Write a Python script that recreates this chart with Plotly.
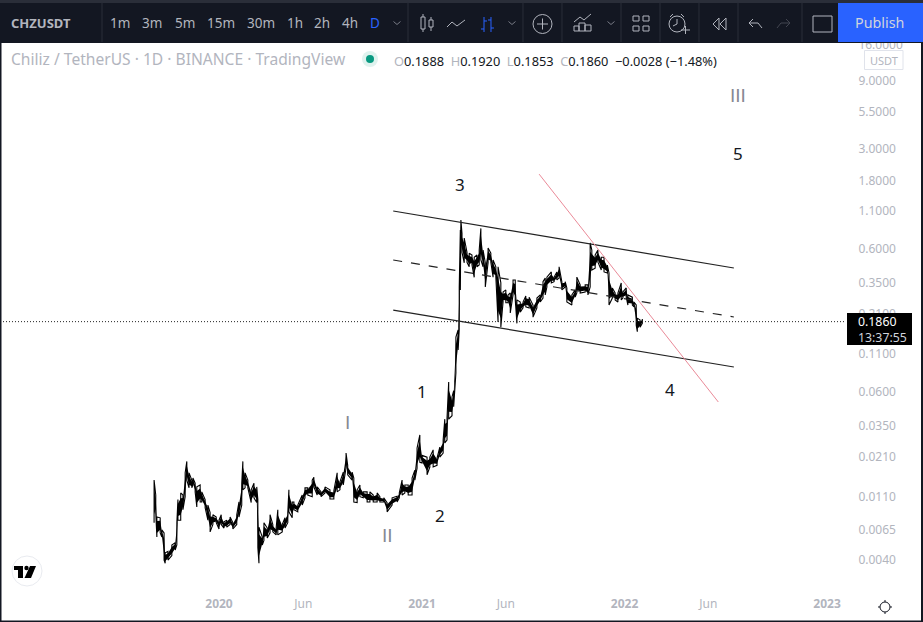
import math
import pandas as pd
import plotly.graph_objects as go

# ---------- data ----------
base_date = pd.Timestamp("2020-01-01")
bar_day = [-117,-114,-112,-106,-103,-99,-97,-92,-85,-79,-76,-74,-69,-65,-61,-58,-54,-49,-47,-43,-40,-34,-31,-25,-20,-16,-11,-5,
 0,4,9,14,20,25,32,36,41,43,47,52,58,63,68,70,72,78,81,87,92,97,103,106,114,119,124,126,132,135,142,150,155,160,168,171,177,184,191,
 200,207,213,218,224,229,232,240,243,249,254,260,267,272,278,285,290,297,303,312,321,325,330,335,341,348,353,357,362,366,375,380,386,393,398,404,
 407,411,414,420,423,427,431,433,435,436,438,442,447,451,456,460,465,469,472,476,480,485,490,494,499,503,508,512,517,521,525,530,534,537,543,548,553,559,566,573,579,584,588,591,
 599,604,609,613,618,624,627,636,642,645,651,660,665,669,672,678,683,689,694,700,703,709,714,719,725,728,734,737,745,748,752,754,759,763]
bar_low = [.0073,.0086,.0058,.0062,.0058,.0040,.0038,.0040,.0043,.0047,.0051,.0076,.0076,.0090,.0111,.0145,.0128,.0128,.0134,.0120,.0094,.0102,.0102,.0093,.0076,.0063,.0071,.0073,
 .0066,.0071,.0067,.0068,.0071,.0066,.0071,.0080,.0097,.0124,.0128,.0128,.0101,.0109,.0101,.0049,.0038,.0051,.0055,.0057,.0062,.0063,.0060,.0060,.0063,.0067,.0073,.0087,.0079,.0090,.0087,.0097,.0109,.0114,.0111,.0130,.0114,.0111,.0118,
 .0107,.0107,.0120,.0124,.0134,.0176,.0158,.0145,.0102,.0101,.0111,.0109,.0102,.0102,.0102,.0102,.0102,.0102,.0087,.0097,.0102,.0109,.0114,.0118,.0114,.0114,.0145,.0176,.0193,.0191,.0158,.0179,.0179,.0184,.0210,.0224,
 .0264,.0276,.0387,.0409,.0473,.0813,.118,.163,.310,.589,.567,.480,.484,.450,.463,.380,.450,.463,.502,.450,.325,.480,.484,.380,.380,.185,.170,.255,.252,.252,.214,.286,.264,.181,.217,.232,.236,.232,.200,.232,.255,.272,.286,.325,
 .347,.354,.364,.375,.310,.325,.255,.243,.276,.295,.295,.300,.286,.325,.427,.440,.484,.427,.414,.407,.243,.272,.264,.255,.264,.272,.276,.243,.243,.236,.176,.158,.170,.181]
bar_high = [.0145,.0114,.0080,.0079,.0065,.0062,.0045,.0046,.0051,.0053,.0073,.0106,.0118,.0114,.0163,.0196,.0163,.0145,.0150,.0138,.0130,.0134,.0120,.0106,.0097,.0086,.0083,.0080,
 .0076,.0083,.0074,.0076,.0080,.0073,.0083,.0102,.0138,.0196,.0163,.0145,.0124,.0138,.0130,.0106,.0068,.0058,.0073,.0067,.0083,.0071,.0067,.0090,.0071,.0079,.0086,.0124,.0102,.0102,.0097,.0114,.0128,.0128,.0145,.0152,.0130,.0120,.0130,
 .0124,.0122,.0163,.0141,.0165,.0224,.0184,.0165,.0150,.0124,.0134,.0120,.0120,.0120,.0114,.0118,.0111,.0109,.0101,.0109,.0112,.0118,.0145,.0134,.0134,.0150,.0170,.0243,.0300,.0216,.0210,.0210,.0236,.0207,.0247,.0276,
 .0387,.0394,.0703,.0553,.0612,.145,.163,.322,.813,.955,.768,.715,.567,.560,.544,.525,.544,.589,.835,.589,.480,.610,.560,.502,.450,.450,.347,.300,.310,.286,.295,.364,.364,.264,.255,.255,.281,.276,.243,.272,.286,.354,.375,.381,
 .414,.381,.414,.450,.354,.354,.320,.286,.310,.381,.336,.336,.336,.660,.589,.544,.589,.525,.525,.463,.407,.320,.295,.295,.347,.300,.320,.286,.276,.255,.243,.197,.191,.194]

upper_day, upper_price = [314, 928], [1.105, 0.441]
lower_day, lower_price = [314, 928], [0.224, 0.0896]
middle_day, middle_price = [314, 928], [0.502, 0.2004]
red_day, red_price = [577, 900], [2.00, 0.0510]
last_price = 0.1860

wave_labels = ["3", "5", "1", "2", "4"]
wave_day = [434, 936, 366, 398, 813]
wave_price = [1.68, 2.77, 0.0600, 0.00815, 0.0628]
roman_labels = ["III", "I", "II"]
roman_day = [936, 231, 303]
roman_price = [7.15, 0.0364, 0.00599]

price_ticks = [16, 9, 5.5, 3, 1.8, 1.1, 0.6, 0.35, 0.21, 0.11, 0.06, 0.035, 0.021, 0.011, 0.0065, 0.004]
price_tick_text = [f"{p:.4f}" for p in price_ticks]
time_ticks = ["2020-01-01", "2020-06-01", "2021-01-01", "2021-06-01", "2022-01-01", "2022-06-01", "2023-01-01"]
time_tick_text = ["<b>2020</b>", "Jun", "<b>2021</b>", "Jun", "<b>2022</b>", "Jun", "<b>2023</b>"]

intervals = ["1m", "3m", "5m", "15m", "30m", "1h", "2h", "4h", "D"]
interval_px = [120, 152, 185, 221, 261, 295, 322, 350, 375]

# ---------- layout constants ----------
W, H = 923, 622
FONT = "Noto Sans"
DARK, GREY, BLUE = "#131722", "#b2b5be", "#2962ff"
DAY0_PX, PX_PER_DAY = 219.0, 0.5548
PLOT_R, PLOT_B = 845, 595
Y16_PX, PX_PER_DECADE = 45.0, 143.0


def to_date(days):
    return [base_date + pd.Timedelta(days=d) for d in days]


def px_to_date(px):
    return base_date + pd.Timedelta(days=(px - DAY0_PX) / PX_PER_DAY)


def px_to_log(py):
    return 1.2041 - (py - Y16_PX) / PX_PER_DECADE


fx = lambda x: x / W
fy = lambda y: 1 - y / H

shapes, annots = [], []


def rect(x0, y0, x1, y1, fill=None, line=None, w=1, layer="above"):
    shapes.append(dict(type="rect", xref="paper", yref="paper", x0=fx(x0), x1=fx(x1), y0=fy(y0), y1=fy(y1),
                       fillcolor=fill or "rgba(0,0,0,0)", line=dict(color=line or "rgba(0,0,0,0)", width=w if line else 0), layer=layer))


def circle(cx, cy, r, fill=None, line=None, w=1):
    shapes.append(dict(type="circle", xref="paper", yref="paper", x0=fx(cx - r), x1=fx(cx + r), y0=fy(cy - r), y1=fy(cy + r),
                       fillcolor=fill or "rgba(0,0,0,0)", line=dict(color=line or "rgba(0,0,0,0)", width=w if line else 0), layer="above"))


def poly(points, color=GREY, w=1, fill=None, close=False):
    d = "M" + " L".join(f"{fx(x):.5f},{fy(y):.5f}" for x, y in points) + (" Z" if close else "")
    shapes.append(dict(type="path", xref="paper", yref="paper", path=d, fillcolor=fill or "rgba(0,0,0,0)",
                       line=dict(color=color, width=w if w else 0), layer="above"))


def label(x, y, text, size=14, color=GREY, anchor="center", font=FONT, bg=None):
    a = dict(xref="paper", yref="paper", x=fx(x), y=fy(y), text=text, showarrow=False, xanchor=anchor, yanchor="middle",
             font=dict(family=font, size=size, color=color), borderpad=0, borderwidth=0, align="left")
    if bg:
        a["bgcolor"] = bg
    annots.append(a)


# ---------- price scale badges and chart-area furniture ----------
label(11, 59, "Chiliz / TetherUS · 1D · BINANCE · TradingView", size=15.6, color=GREY, anchor="left")
circle(370, 59, 8, fill="#dff2ee")
circle(370, 59, 4, fill="#089981")
g = lambda s: f'<span style="color:#b2b5be">{s}</span>'
label(394, 61, f'{g("O")}0.1888  {g("H")}0.1920  {g("L")}0.1853  {g("C")}0.1860  −0.0028 (−1.48%)', size=12.8, color=DARK, anchor="left")
rect(864.5, 50.5, 903, 69.5, fill="white", line="#e0e3eb")
label(884, 60, "USDT", size=11, color=GREY)
rect(847, 313, 912, 345, fill="black")
label(858, 329, '0.1860<br><span style="color:#d1d4dc">13:37:55</span>', size=12.3, color="white", anchor="left")

# TradingView badge
circle(27, 571, 15, fill="white", line="#e9ebf0")
poly([(14, 566), (23, 566), (23, 578), (18, 578), (18, 570), (14, 570)], color="black", w=0, fill="black", close=True)
circle(26.5, 568, 2.2, fill="black")
poly([(30, 566), (36, 566), (31, 578), (24.5, 578)], color="black", w=0, fill="black", close=True)

# theme toggle (sun)
circle(885, 607, 5, line=DARK, w=1)
for p, q in [((885, 600), (885, 602)), ((885, 612), (885, 614)), ((878, 607), (880, 607)), ((890, 607), (892, 607))]:
    poly([p, q], color=DARK, w=1)

# ---------- dark window chrome and toolbar ----------
rect(0, 0, W, 43, fill=DARK)
rect(0, 0, W, 3, fill="#2a2e39")
rect(0, 43, 1.5, H, fill=DARK)
rect(921, 43, W, H, fill=DARK)
rect(0, 620.5, W, H, fill=DARK)
rect(838, 3, W, 42, fill=BLUE)
for xs in [102, 408, 523, 562, 621, 660, 699, 738, 802]:
    poly([(xs, 3), (xs, 42)], color="#2a2e39", w=1)
label(11, 23, "<b>CHZUSDT</b>", size=13, color=GREY, anchor="left")
for name, px in zip(intervals, interval_px):
    label(px, 23, name, size=13.5, color=BLUE if name == "D" else GREY)
label(879, 23, "Publish", size=14.3, color="#d1d4dc")

for cx in [397, 512, 611]:
    poly([(cx - 3.5, 21.5), (cx, 24.5), (cx + 3.5, 21.5)], color="#787b86")
# candle icon
rect(421, 17, 425, 29, line=GREY)
poly([(423, 14), (423, 17)]); poly([(423, 29), (423, 32)])
rect(429, 20, 433, 27, line=GREY)
poly([(431, 17), (431, 20)]); poly([(431, 27), (431, 31)])
# line icon
poly([(447, 27), (452, 22), (457, 26), (465, 20)])
# bar icon
for bx, a, b in [(484, 29, 21), (491, 20, 28)]:
    poly([(bx, 17), (bx, 32)], color=BLUE)
    poly([(bx - 3, a), (bx, a)], color=BLUE)
    poly([(bx, b), (bx + 3, b)], color=BLUE)
# plus circle
circle(542.5, 24, 9.5, line=GREY)
poly([(537, 24), (548, 24)]); poly([(542.5, 18.5), (542.5, 29.5)])
# indicators icon
poly([(574, 22), (580, 17), (584, 20), (591, 14)])
rect(574, 26, 579, 31, line=GREY); rect(579, 23, 585, 31, line=GREY); rect(585, 25, 591, 31, line=GREY)
# layouts icon
for a, b in [(633, 16), (643, 16), (633, 26), (643, 26)]:
    rect(a, b, a + 6, b + 5, line=GREY)
# alert icon
circle(677, 24, 8, line=GREY)
poly([(677, 19), (677, 24), (673, 26)]); poly([(670, 17), (673, 14)]); poly([(684, 17), (681, 14)])
poly([(681, 30), (690, 30)]); poly([(685.5, 26), (685.5, 34)])
# replay icon
poly([(719, 18), (713, 24), (719, 30), (719, 18)]); poly([(726, 18), (720, 24), (726, 30), (726, 18)])
# undo / redo
poly([(753, 19), (749, 23), (753, 27)]); poly([(749, 23), (758, 23), (762, 28)])
poly([(786, 19), (790, 23), (786, 27)], color="#434651"); poly([(790, 23), (781, 23), (777, 28)], color="#434651")
# fullscreen square
rect(813, 16, 832, 32, line=GREY)

# ---------- figure ----------
fig = go.Figure()

bar_date = to_date(bar_day)
core_high = [lo ** 0.2 * hi ** 0.8 for lo, hi in zip(bar_low, bar_high)]
core_low = [lo ** 0.8 * hi ** 0.2 for lo, hi in zip(bar_low, bar_high)]
fig.add_trace(go.Scatter(x=bar_date + bar_date[::-1], y=core_high + core_low[::-1], mode="none", fill="toself",
                         fillcolor="black", hoverinfo="skip", showlegend=False))
path_x, path_y = [], []
for i, (d, lo, hi) in enumerate(zip(bar_date, bar_low, bar_high)):
    path_x += [d, d]
    path_y += [lo, hi] if i % 2 == 0 else [hi, lo]
fig.add_trace(go.Scatter(x=path_x, y=path_y, mode="lines", line=dict(color="black", width=1.1), hoverinfo="skip", showlegend=False))

for days, prices, color, dash, width in [
    (upper_day, upper_price, "#222222", "solid", 1.2),
    (lower_day, lower_price, "#222222", "solid", 1.2),
    (middle_day, middle_price, "#222222", "dash", 1.2),
    (red_day, red_price, "#ea8a98", "solid", 1),
]:
    fig.add_trace(go.Scatter(x=to_date(days), y=prices, mode="lines", line=dict(color=color, width=width, dash=dash),
                             hoverinfo="skip", showlegend=False))

fig.add_hline(y=last_price, line=dict(color="#222222", width=1, dash="1px,2px"))

for t, d, p in zip(wave_labels, to_date(wave_day), wave_price):
    annots.append(dict(x=d, y=math.log10(p), xref="x", yref="y", text=t, showarrow=False,
                       font=dict(family=FONT, size=17, color=DARK)))
for t, d, p in zip(roman_labels, to_date(roman_day), roman_price):
    annots.append(dict(x=d, y=math.log10(p), xref="x", yref="y", text=t, showarrow=False,
                       font=dict(family="Liberation Sans", size=19, color="#868993")))

fig.update_layout(
    width=W, height=H, autosize=False, margin=dict(l=0, r=0, t=0, b=0),
    paper_bgcolor="white", plot_bgcolor="white", showlegend=False,
    font=dict(family=FONT, size=12, color=GREY),
    annotations=annots,
    xaxis=dict(domain=[0, PLOT_R / W], type="date", range=[px_to_date(0), px_to_date(PLOT_R)], tickmode="array",
               tickvals=time_ticks, ticktext=time_tick_text, showgrid=False, zeroline=False, showline=False, ticks="",
               tickfont=dict(family=FONT, size=12, color=GREY), fixedrange=True),
    yaxis=dict(domain=[1 - PLOT_B / H, 1], type="log", side="right", anchor="x", range=[px_to_log(PLOT_B), px_to_log(0)],
               tickmode="array", tickvals=price_ticks, ticktext=price_tick_text, showgrid=False, zeroline=False,
               showline=False, ticks="outside", ticklen=10, tickcolor="rgba(0,0,0,0)",
               tickfont=dict(family=FONT, size=12, color=GREY), fixedrange=True),
)
fig.layout.shapes = list(fig.layout.shapes) + [go.layout.Shape(**s) for s in shapes]

fig.write_html("out.html", config=dict(displayModeBar=False),
               post_script="document.body.style.margin='0';document.documentElement.style.overflow='hidden';")
